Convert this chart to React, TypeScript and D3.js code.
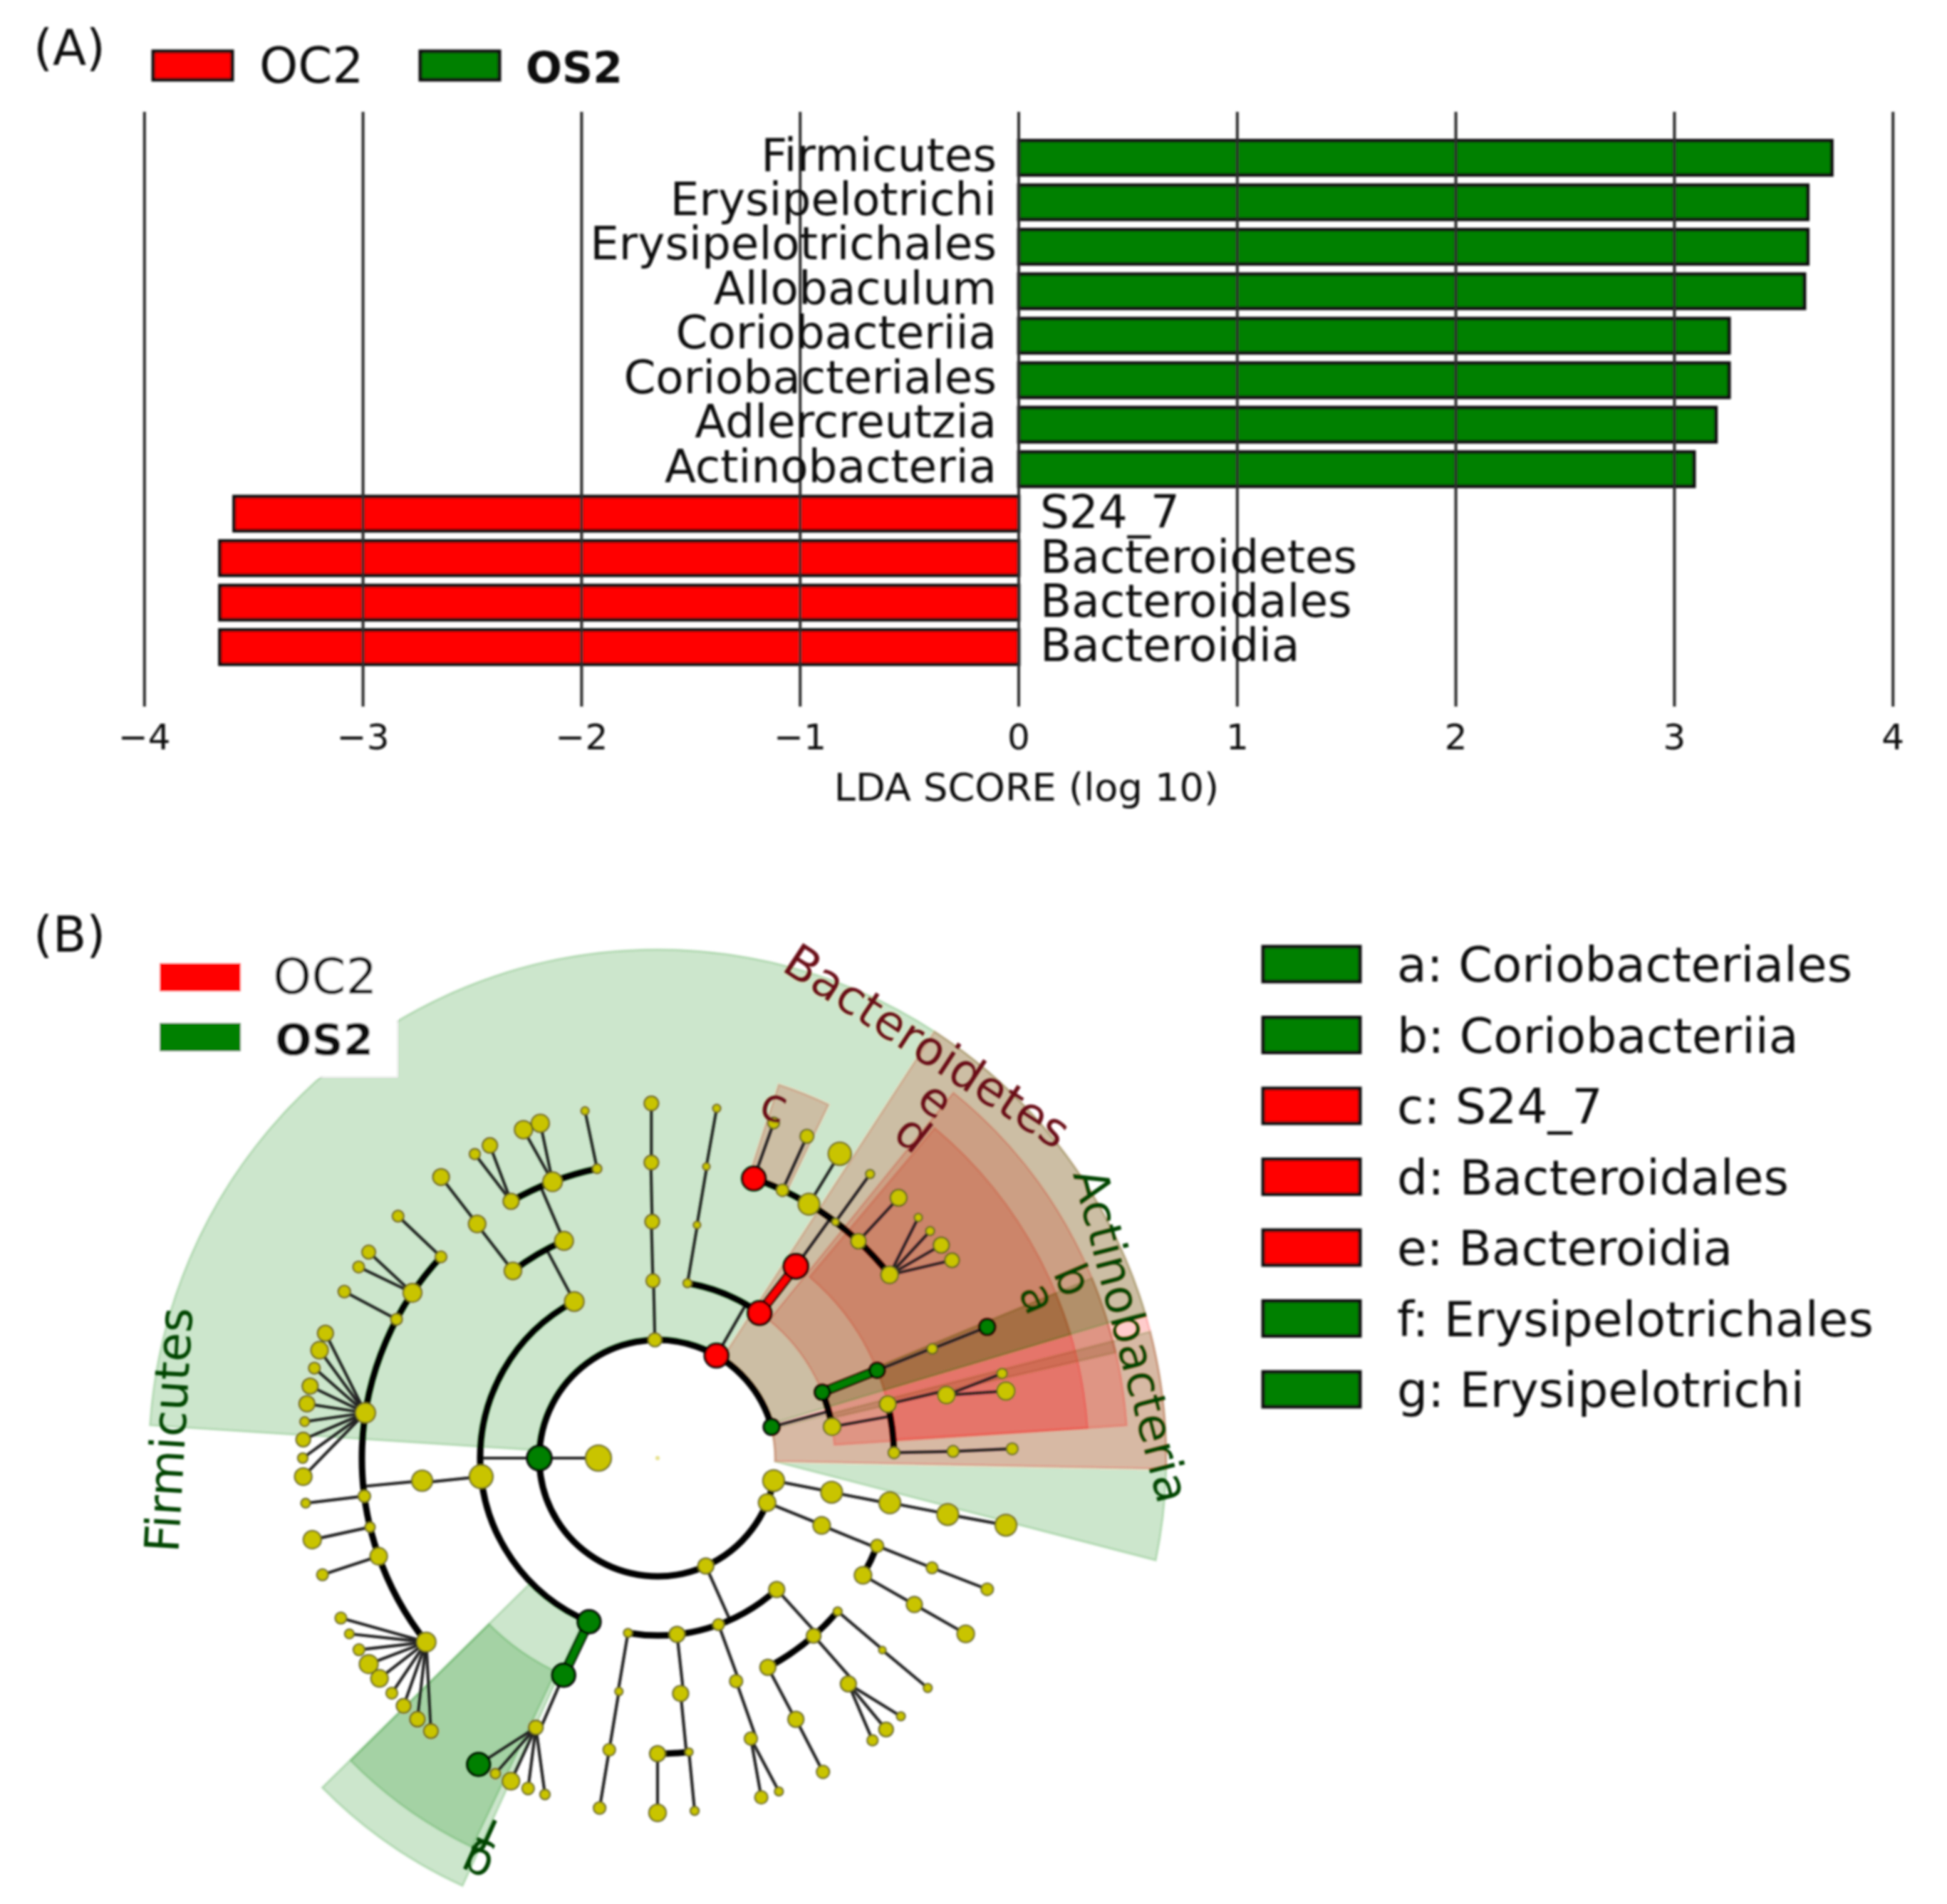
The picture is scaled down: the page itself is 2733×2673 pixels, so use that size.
import React from 'react';
import * as d3 from 'd3';

const WIDTH = 2733;
const HEIGHT = 2673;
const FONT = '"DejaVu Sans", sans-serif';

const COLORS: any = { OC2: '#ff0000', OS2: '#008000' };
const GROUPS = ['OC2', 'OS2'];

// panel A
const taxa = [
  'Firmicutes', 'Erysipelotrichi', 'Erysipelotrichales', 'Allobaculum',
  'Coriobacteriia', 'Coriobacteriales', 'Adlercreutzia', 'Actinobacteria',
  'S24_7', 'Bacteroidetes', 'Bacteroidales', 'Bacteroidia',
];
const ldaScores = [3.72, 3.61, 3.61, 3.595, 3.25, 3.25, 3.19, 3.09, -3.59, -3.655, -3.655, -3.655];

// panel B legend
const cladeKeys = ['a: Coriobacteriales', 'b: Coriobacteriia', 'c: S24_7', 'd: Bacteroidales', 'e: Bacteroidia', 'f: Erysipelotrichales', 'g: Erysipelotrichi'];
const cladeKeyGroups = ['OS2', 'OS2', 'OC2', 'OC2', 'OC2', 'OS2', 'OS2'];

// tree nodes: [angle in degrees, node radius, children, group]
const G = 'OS2';
const R = 'OC2';
const firmicutes: any = [180, 17, [
  [118, 13.5, [
    [113.3, 13, [
      [101.8, 6.5, [[101.8, 5.5]]],
      [110.8, 13.5, [[112.2, 12.5], [109.3, 12.5]]],
      [119.7, 11, [[121, 7.5], [118.2, 10.5]]],
    ]],
    [127.7, 12, [[127.6, 12, [[127.6, 11.5]]]]],
  ]],
  [186, 16.5, [[185.5, 14.5, [
    [137.1, 8, [[137, 8]]],
    [146, 13, [[144.5, 9.5], [147.4, 8]]],
    [152, 8, [[152, 8.5]]],
    [171.2, 14, [[159.4, 11], [162.3, 12], [165.3, 8], [168.3, 11], [171.2, 11], [174.1, 6.5], [177, 10], [180, 7], [183, 12]]],
    [187.4, 8.5, [[187.3, 6.5]]],
    [193.5, 7, [[193.3, 12.5]]],
    [199.4, 12, [[199.2, 8]]],
    [218.5, 13.5, [[206.8, 8], [209.7, 6.5], [212.7, 8], [215.5, 13], [218.4, 12], [221.5, 8], [224.3, 10], [227.4, 10.5], [230.3, 10]]],
  ]]]],
  [247.3, 16, [[246.6, 16, [[245.7, 10, [[239.7, 16, [], G], [242.8, 7], [245.6, 12], [248.6, 8.5], [251.5, 7]]]], G]], G],
], G];
const unnamedTop: any = [91.3, 9.5, [[91.5, 9.5, [[91.3, 10, [[91.2, 10, [[91, 10]]]]]]]]];
const bacteroidetes: any = [60.1, 16.5, [
  [54.9, 16.5, [[54.2, 17, [
    [71, 16.5, [[70.9, 8]], R],
    [65, 8.5, [[65.1, 9.5]]],
    [59.2, 15, [[59.1, 16]]],
    [53, 5, [[53.2, 6]]],
    [47.2, 10.5, [[47.2, 11.5]]],
    [38.3, 12, [[42.7, 5.5], [39.8, 6], [36.9, 11], [33.9, 10]]],
  ], R]], R],
  [80.3, 6, [[80.4, 5, [[80.5, 5, [[80.4, 5.5]]]]]]],
], R];
const actinobacteria: any = [15.3, 11, [
  [21.8, 10.5, [[21.8, 10.5, [[21.7, 7, [[21.7, 11, [], G]]]], G]], G],
  [10.2, 12, [
    [13.2, 11.5, [[12.3, 12, [[13.8, 7], [10.9, 12.5]]]]],
    [1.3, 8, [[1.3, 8, [[1.5, 8]]]]],
  ]],
], G];
const chainRight: any = [349, 15, [[348.9, 15, [[349.1, 15, [[349, 15, [[349.1, 15]]]]]]]]];
const cladeLowerRight: any = [337.9, 12, [[337.7, 12, [
  [338.2, 9, [[338.2, 8, [[338.3, 8.5]]]]],
  [330.3, 12, [[330.3, 11, [[330.3, 12]]]]],
]]]];
const cladeBottom: any = [294.1, 11, [
  [312.2, 11, [
    [319.6, 6, [[319.5, 5, [[319.6, 6]]]]],
    [311.3, 10, [[310.2, 11, [[313.3, 6], [310.1, 10], [307.3, 7.5]]]]],
    [297.8, 11, [[297.9, 11, [[297.8, 9]]]]],
  ]],
  [290.1, 8, [[289.4, 9, [[288.4, 9, [[287, 9], [290, 6]]]]]]],
  [276.3, 11, [[275.6, 11, [
    [276.1, 5.5, [[276, 6]]],
    [270, 11, [[270, 12]]],
  ]]]],
  [260.4, 6, [[260.6, 5.5, [[260.6, 8.5, [[260.6, 8.5]]]]]]],
]];
const phyla = [actinobacteria, bacteroidetes, unnamedTop, firmicutes, cladeBottom, cladeLowerRight, chainRight];
const treeRoot: any = [0, 3, [[180, 18, phyla]]];

// highlighted clades, painted in this order: [group, radius in, radius out, low angle in, low angle out, high angle]
const bands: any[] = [
  [G, 165, 714, -1.7, -11.6, 14.4], // Actinobacteria
  [G, 332, 605, 16.7, 16.7, 22.5], // a
  [G, 249, 660, 13, 13, 22.5], // b
  [R, 165, 714, -1.5, -1.2, 57], // Bacteroidetes
  [R, 249, 660, 4.3, 4, 51], // e
  [R, 332, 605, 4.5, 4, 50], // d
  [R, 414, 551, 64.2, 64.2, 72], // c
  [G, 165, 714, 16.7, 16.7, 176.3], // Firmicutes
  [G, 249, 660, 224.5, 224.5, 245.5], // g
  [G, 332, 605, 224.6, 224.6, 244.5], // f
];

// label, polar angle, radius from centre, colour, font size
const cladeLabels: any[] = [
  ['Firmicutes', 176.7, 688, '#004400', 67],
  ['Bacteroidetes', 56.8, 692, '#6b0a12', 67],
  ['Actinobacteria', 14.5, 688, '#004400', 66.5],
  ['c', 71.7, 523, '#6b0a12', 66],
  ['d', 51.8, 581, '#6b0a12', 66],
  ['e', 52.2, 638, '#6b0a12', 66],
  ['a', 22.8, 581, '#004400', 66],
  ['b', 23.2, 636, '#004400', 66],
  ['f', 245.7, 581, '#004400', 66],
  ['g', 246, 625, '#004400', 66],
];

const rad = (deg: number) => (deg * Math.PI) / 180;
const level = d3.scaleLinear().domain([0, 6]).range([0, 498]);
const polar = (r: number, a: number): [number, number] => [r * Math.cos(rad(a)), -r * Math.sin(rad(a))];

const arcPath = (r: number, a0: number, a1: number) => {
  const p = d3.path();
  p.moveTo(...polar(r, a0));
  p.arc(0, 0, r, -rad(a0), -rad(a1), true);
  return p.toString();
};

const bandPath = ([, rIn, rOut, a0In, a0Out, a1]: any[]) => {
  const p = d3.path();
  p.moveTo(...polar(rIn, a0In));
  p.lineTo(...polar(rOut, a0Out));
  p.arc(0, 0, rOut, -rad(a0Out), -rad(a1), true);
  p.lineTo(...polar(rIn, a1));
  p.arc(0, 0, rIn, -rad(a1), -rad(a0In), false);
  p.closePath();
  return p.toString();
};

const Bars = () => {
  const x = d3.scaleLinear().domain([-4, 4]).range([202.8, 2657.2]);
  const y = d3.scaleBand().domain(taxa).range([190.3, 939.7]).paddingInner(0.23).paddingOuter(0.115);
  const fmt = x.tickFormat(8, 'd');
  return (
    <g fontFamily={FONT} fill="#111">
      {taxa.map((t, i) => {
        const v = ldaScores[i];
        return (
          <rect key={t} x={x(Math.min(v, 0))} y={y(t)} width={Math.abs(x(v) - x(0))} height={y.bandwidth()}
            fill={v > 0 ? COLORS.OS2 : COLORS.OC2} stroke="#111" strokeWidth={5} />
        );
      })}
      {x.ticks(8).map(t => (
        <g key={t}>
          <line x1={x(t)} x2={x(t)} y1={157} y2={992} stroke="#2a2a2a" strokeWidth={4} />
          <text x={x(t)} y={1052} fontSize={50} textAnchor="middle">{fmt(t)}</text>
        </g>
      ))}
      {taxa.map((t, i) => (
        <text key={t} x={ldaScores[i] > 0 ? x(0) - 31 : x(0) + 30} y={y(t)! + y.bandwidth() / 2 + (ldaScores[i] > 0 ? 18 : 20)}
          fontSize={64.4} textAnchor={ldaScores[i] > 0 ? 'end' : 'start'}>{t}</text>
      ))}
      <text x={x(0) + 11} y={1124} fontSize={54.2} textAnchor="middle">LDA SCORE (log 10)</text>
    </g>
  );
};

const Cladogram = () => {
  const root = d3.hierarchy(treeRoot, (d: any) => d[2]);
  const nodes = root.descendants();
  const r = (n: any) => level(n.depth);
  const a = (n: any) => n.data[0];
  const parents = nodes.filter(n => n.children && n.depth > 0);

  return (
    <g>
      {bands.map((b, i) => (
        <path key={i} d={bandPath(b)} fill={COLORS[b[0]]} fillOpacity={0.2} stroke={COLORS[b[0]]} strokeOpacity={0.2} strokeWidth={3} />
      ))}
      {parents.map((n, i) => {
        const kids = n.children!;
        const leafFan = n.depth >= 5;
        if (leafFan) {
          return kids.map((k, j) => (
            <line key={`${i}-${j}`} x1={polar(r(n), a(n))[0]} y1={polar(r(n), a(n))[1]} x2={polar(r(k), a(k))[0]} y2={polar(r(k), a(k))[1]} stroke="#222" strokeWidth={4.2} />
          ));
        }
        const ext = d3.extent([a(n), ...kids.map(a)]) as [number, number];
        const rc = level(n.depth + 1);
        const tinted = n.depth === 3 && n.data[3] && kids[0].data[3] === n.data[3];
        if (tinted) {
          const p0 = polar(r(n), a(n));
          const p1 = polar(rc, a(kids[0]));
          return (
            <g key={i}>
              <line x1={p0[0]} y1={p0[1]} x2={p1[0]} y2={p1[1]} stroke="#000" strokeWidth={14} />
              <line x1={p0[0]} y1={p0[1]} x2={p1[0]} y2={p1[1]} stroke={COLORS[n.data[3]]} strokeWidth={9} />
            </g>
          );
        }
        const p0 = polar(r(n), a(n));
        const p1 = polar(rc, a(n));
        return (
          <g key={i}>
            <line x1={p0[0]} y1={p0[1]} x2={p1[0]} y2={p1[1]} stroke="#222" strokeWidth={4.2} />
            <path d={arcPath(rc, ext[0], ext[1])} fill="none" stroke="#000" strokeWidth={9} />
          </g>
        );
      })}
      {nodes.map((n, i) => {
        const [px, py] = polar(r(n), a(n));
        const grp = n.data[3];
        return (
          <circle key={i} cx={px} cy={py} r={n.data[1]}
            fill={grp ? COLORS[grp] : n.depth === 0 ? '#e6e08c' : '#c9c400'}
            stroke={grp ? '#000' : n.depth === 0 ? 'none' : '#55551a'} strokeWidth={grp ? 3.5 : 2} />
        );
      })}
    </g>
  );
};

export default function App() {
  const legendA = [215, 590];
  const legendB = [1352, 1436];
  const centre = [923, 2047];
  return (
    <svg width={WIDTH} height={HEIGHT} style={{ position: 'absolute', left: 0, top: 0, background: '#fff' }}>
      <defs>
        <filter id="soft" x="0" y="0" width="100%" height="100%" filterUnits="userSpaceOnUse">
          <feGaussianBlur stdDeviation="1.8" />
        </filter>
      </defs>
      <rect width={WIDTH} height={HEIGHT} fill="#fff" />
      <g filter="url(#soft)" fontFamily={FONT} fill="#111">
        <text x={47} y={91} fontSize={69}>(A)</text>
        {GROUPS.map((g, i) => (
          <g key={g}>
            <rect x={legendA[i]} y={72} width={111} height={40} fill={COLORS[g]} stroke="#111" strokeWidth={5} />
            <text x={legendA[i] + (i ? 148 : 149)} y={116} fontSize={i ? 60 : 69} fontWeight={i ? 'bold' : 'normal'}>{g}</text>
          </g>
        ))}
        <Bars />

        <g transform={`translate(${centre[0]},${centre[1]})`}>
          <Cladogram />
        </g>

        <rect x={215} y={1320} width={342} height={191} fill="#fff" />
        <text x={47} y={1336} fontSize={69}>(B)</text>
        {GROUPS.map((g, i) => (
          <g key={g}>
            <rect x={224} y={legendB[i]} width={114} height={40} fill={COLORS[g]} />
            <text x={i ? 386 : 383} y={legendB[i] + (i ? 45 : 43)} fontSize={i ? 61 : 69} fontWeight={i ? 'bold' : 'normal'}>{g}</text>
          </g>
        ))}

        <g transform={`translate(${centre[0]},${centre[1]})`}>
          {cladeLabels.map(([t, ang, dist, col, size]) => {
            const [px, py] = polar(dist, ang);
            return (
              <text key={t} x={px} y={py} dy="0.36em" fill={col} fontSize={size} textAnchor="middle"
                transform={`rotate(${90 - ang},${px},${py})`}>{t}</text>
            );
          })}
        </g>

        {cladeKeys.map((t, i) => (
          <g key={t}>
            <rect x={1773} y={1329 + i * 99.5} width={136} height={49} fill={COLORS[cladeKeyGroups[i]]} stroke="#111" strokeWidth={5} />
            <text x={1961} y={1378 + i * 99.5} fontSize={68}>{t}</text>
          </g>
        ))}
      </g>
    </svg>
  );
}
